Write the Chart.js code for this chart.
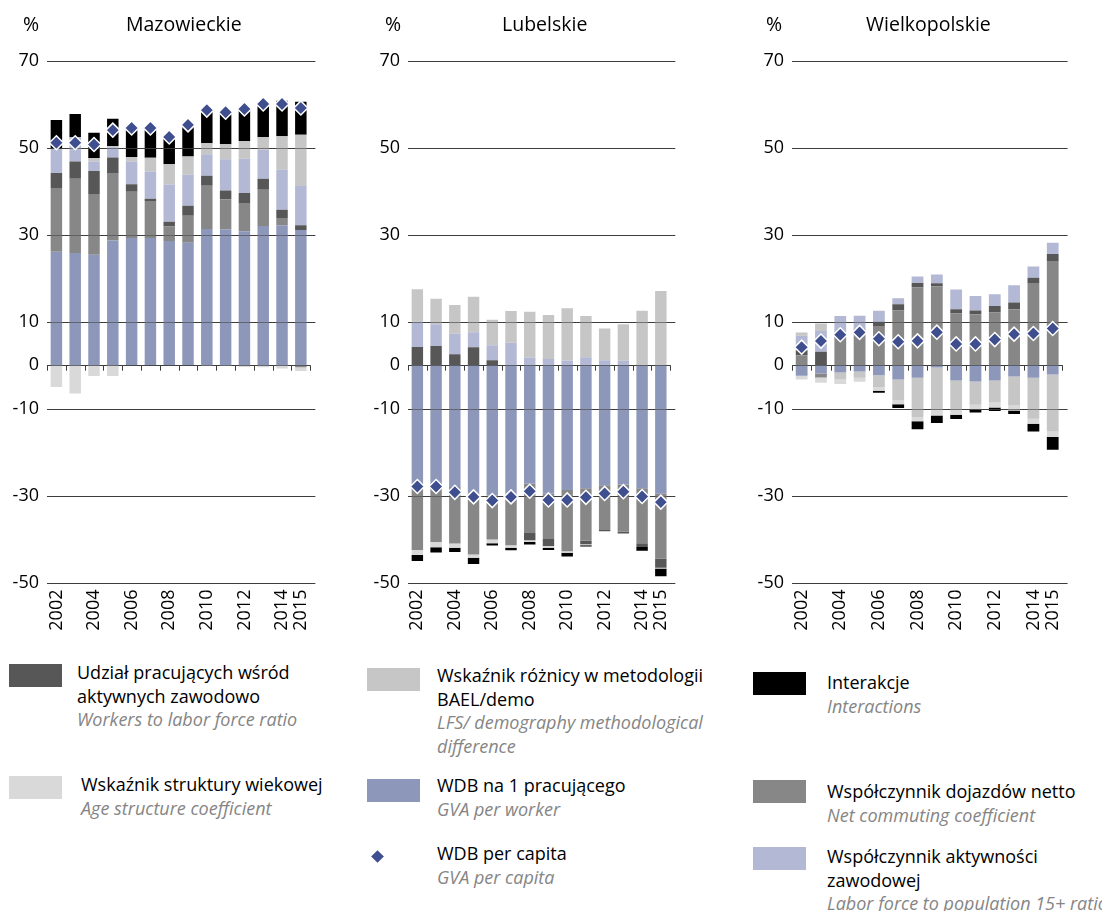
<!DOCTYPE html>
<html>
<head>
<meta charset="utf-8">
<script src="https://cdn.jsdelivr.net/npm/chart.js@4.4.1/dist/chart.umd.min.js"></script>
<style>
  body { margin: 0; background: #fff; font-family: "Open Sans", sans-serif; color: #000; }
  #wrap { position: relative; width: 1102px; height: 911px; overflow: hidden; }
  canvas { position: absolute; top: 0; }
  .t { position: absolute; font-size: 19.5px; line-height: 20px; white-space: nowrap; }
  .sw { position: absolute; width: 53px; height: 23px; }
  .lg { position: absolute; font-size: 18px; line-height: 23.5px; white-space: nowrap; }
  .lg i { color: #858585; }
  .dia { position: absolute; width: 9px; height: 9px; background: #3f4e8e; transform: rotate(45deg); }
</style>
</head>
<body>
<div id="wrap">
  <canvas id="c1" width="330" height="640" style="left:0px"></canvas>
  <canvas id="c2" width="330" height="640" style="left:360px"></canvas>
  <canvas id="c3" width="340" height="640" style="left:742px"></canvas>

  <div class="t" style="left:23px;top:14px">%</div>
  <div class="t" style="left:126px;top:14px">Mazowieckie</div>
  <div class="t" style="left:385px;top:14px">%</div>
  <div class="t" style="left:502px;top:14px">Lubelskie</div>
  <div class="t" style="left:766px;top:14px">%</div>
  <div class="t" style="left:866px;top:14px">Wielkopolskie</div>

  <div class="sw" style="left:9px;top:664px;background:#575757"></div>
  <div class="lg" style="left:77px;top:661px">Udział pracujących wśród<br>aktywnych zawodowo<br><i>Workers to labor force ratio</i></div>
  <div class="sw" style="left:9px;top:776px;background:#d9d9d9"></div>
  <div class="lg" style="left:81px;top:773px">Wskaźnik struktury wiekowej<br><i>Age structure coefficient</i></div>

  <div class="sw" style="left:367px;top:668px;background:#c6c6c6"></div>
  <div class="lg" style="left:437px;top:664px">Wskaźnik różnicy w metodologii<br>BAEL/demo<br><i>LFS/ demography methodological<br>difference</i></div>
  <div class="sw" style="left:367px;top:779px;background:#8c97ba"></div>
  <div class="lg" style="left:437px;top:774px">WDB na 1 pracującego<br><i>GVA per worker</i></div>
  <div class="dia" style="left:373px;top:852px"></div>
  <div class="lg" style="left:437px;top:842px">WDB per capita<br><i>GVA per capita</i></div>

  <div class="sw" style="left:753px;top:672px;background:#000"></div>
  <div class="lg" style="left:827px;top:671px">Interakcje<br><i>Interactions</i></div>
  <div class="sw" style="left:753px;top:780px;background:#878787"></div>
  <div class="lg" style="left:827px;top:780px">Współczynnik dojazdów netto<br><i>Net commuting coefficient</i></div>
  <div class="sw" style="left:753px;top:847px;background:#b3b8d4"></div>
  <div class="lg" style="left:827px;top:845px">Współczynnik aktywności<br>zawodowej<br><i>Labor force to population 15+ ratio</i></div>
</div>
<script>
const years = ['2002','2003','2004','2005','2006','2007','2008','2009','2010','2011','2012','2013','2014','2015'];
const shownYears = ['2002','2004','2006','2008','2010','2012','2014','2015'];
const yTicks = [-50, -30, -10, 0, 10, 30, 50, 70];

// Mazowieckie
const mazGvaWorker = [26.1, 25.8, 25.4, 28.7, 29.3, 29.3, 28.6, 28.2, 31.35, 31.3, 30.8, 32.05, 32.2, 31.1];
const mazCommuting = [14.7, 17.1, 14.0, 15.55, 10.6, 8.5, 3.3, 6.2, 9.95, 6.9, 6.55, 8.3, 1.7, -0.45];
const mazWorkersLF = [3.45, 4.0, 5.3, 3.55, 1.75, 0.5, 1.1, 2.3, 2.3, 2.0, 2.3, 2.55, 1.85, 1.1];
const mazActivity = [5.45, 5.55, 2.2, 2.35, 5.25, 6.25, 8.6, 7.1, 4.95, 7.2, 7.85, 6.65, 9.25, 9.05];
const mazLfsDiff = [0, 0, 0.7, 0.3, 1.0, 3.2, 4.65, 4.2, 2.55, 3.45, 4.05, 2.9, 7.7, 11.8];
const mazAge = [-5.0, -6.5, -2.5, -2.5, 0, 0, 0, 0, -0.2, -0.2, -0.4, -0.45, -0.75, -0.9];
const mazInteract = [6.7, 5.35, 5.9, 6.25, 6.7, 6.7, 6.25, 7.3, 7.6, 7.55, 7.8, 8.1, 8.15, 7.6];
const mazGvaCapita = [51.2, 51.2, 50.8, 54.1, 54.6, 54.6, 52.5, 55.3, 58.7, 58.2, 58.95, 60.1, 60.1, 59.2];

// Lubelskie
const lubGvaWorker = [-27.5, -27.5, -28.0, -29.5, -30.0, -29.5, -27.2, -29.6, -28.7, -28.3, -27.65, -27.5, -28.3, -29.55];
const lubCommuting = [-15.05, -13.2, -13.0, -14.05, -10.1, -11.9, -11.4, -10.4, -14.1, -12.1, -10.25, -10.85, -12.65, -14.95];
const lubWorkersLF = [4.2, 4.4, 2.55, 4.15, 1.15, 0, -1.65, -1.6, 0, -0.8, -0.3, -0.4, -0.9, -2.1];
const lubActivity = [5.8, 5.0, 4.75, 3.45, 3.45, 5.15, 1.75, 1.45, 1.1, 1.85, 1.15, 1.0, 0, 0];
const lubLfsDiff = [7.45, 5.9, 6.55, 8.15, 5.85, 7.3, 10.55, 10.1, 12.0, 9.45, 7.3, 8.45, 12.55, 17.1];
const lubAge = [-1.15, -1.2, -1.0, -0.75, -0.85, -0.6, -0.45, -0.4, -0.35, -0.2, 0, 0, 0, -0.2];
const lubInteract = [-1.35, -1.2, -1.0, -1.45, -0.55, -0.6, -0.55, -0.55, -0.85, -0.3, 0, 0, -0.85, -1.75];
const lubGvaCapita = [-27.9, -27.9, -29.25, -30.3, -31.15, -30.3, -29.0, -31.0, -31.0, -30.4, -29.5, -29.1, -30.2, -31.5];

// Wielkopolskie
const wlkGvaWorker = [-2.45, -1.9, -1.7, -1.45, -2.3, -3.3, -2.9, -0.55, -3.5, -3.75, -3.5, -2.6, -2.9, -2.15];
const wlkCommuting = [2.3, -0.9, 6.7, 8.45, 9.0, 12.6, 17.9, 18.15, 11.9, 11.7, 12.15, 12.9, 18.9, 24.0];
const wlkWorkersLF = [1.15, 3.1, 0, 0, 1.0, 1.4, 1.0, 0.7, 0.95, 0.9, 1.45, 1.55, 1.2, 1.6];
const wlkActivity = [3.3, 4.75, 4.6, 2.95, 2.55, 1.4, 1.5, 2.05, 4.55, 3.3, 2.7, 3.95, 2.6, 2.55];
const wlkLfsDiff = [0.8, 1.75, -1.6, -1.45, -2.8, -4.8, -9.1, -9.9, -6.9, -5.35, -5.1, -6.7, -9.4, -13.1];
const wlkAge = [-0.85, -1.25, -1.0, -0.9, -0.8, -0.9, -0.9, -1.15, -1.0, -1.05, -1.15, -1.1, -1.15, -1.25];
const wlkInteract = [0, 0, 0, 0, -0.45, -0.85, -1.85, -1.7, -0.95, -0.75, -0.8, -0.8, -1.8, -2.95];
const wlkGvaCapita = [4.15, 5.55, 7.0, 7.55, 6.1, 5.4, 5.6, 7.6, 4.9, 4.9, 5.9, 7.15, 7.3, 8.45];

const FONT = '"Open Sans", sans-serif';

function drawGrid(chart, color) {
    const { ctx, chartArea, scales } = chart;
    const yScale = scales.y, xScale = scales.x;
    ctx.save();
    ctx.strokeStyle = color;
    ctx.lineWidth = 1;
    yScale.ticks.forEach(t => {
        const y = Math.round(yScale.getPixelForValue(t.value)) + 0.5;
        const end = t.value === 0 ? chartArea.right : chartArea.right + 5;
        ctx.beginPath();
        ctx.moveTo(chartArea.left, y);
        ctx.lineTo(end, y);
        ctx.stroke();
    });
    // small ticks on the zero line, between categories
    const y0 = Math.round(yScale.getPixelForValue(0)) + 0.5;
    const n = chart.data.labels.length;
    const w = (xScale.right - xScale.left) / n;
    for (let i = 0; i <= n; i++) {
        const x = Math.round(xScale.left + i * w) + 0.5;
        ctx.beginPath();
        ctx.moveTo(x, y0);
        ctx.lineTo(x, y0 + 5);
        ctx.stroke();
    }
    ctx.restore();
}

const gridPlugin = {
    id: 'gridOver',
    beforeDatasetsDraw(chart) {
        drawGrid(chart, '#111');
    },
    beforeDatasetDraw(chart, args) {
        if (args.meta.type === 'line') drawGrid(chart, 'rgba(80,80,80,0.7)');
    }
};

function barSet(label, data, color) {
    return { type: 'bar', label, data, backgroundColor: color, borderWidth: 0,
             stack: 'a', order: 1, barPercentage: 0.61, categoryPercentage: 1.0 };
}

function makeChart(id, s, yWidth, padRight) {
    const ctx = document.getElementById(id).getContext('2d');
    return new Chart(ctx, {
        type: 'bar',
        data: {
            labels: years,
            datasets: [
                barSet('WDB na 1 pracującego', s.gvaWorker, '#8c97ba'),
                barSet('Współczynnik dojazdów netto', s.commuting, '#878787'),
                barSet('Udział pracujących wśród aktywnych zawodowo', s.workersLF, '#575757'),
                barSet('Współczynnik aktywności zawodowej', s.activity, '#b3b8d4'),
                barSet('Wskaźnik różnicy w metodologii BAEL/demo', s.lfsDiff, '#c6c6c6'),
                barSet('Wskaźnik struktury wiekowej', s.age, '#d9d9d9'),
                barSet('Interakcje', s.interact, '#000000'),
                {
                    type: 'line', label: 'WDB per capita', data: s.gvaCapita, stack: 'pc', order: 0,
                    showLine: false, pointStyle: 'rectRot', pointRadius: 7,
                    pointBackgroundColor: '#3f4e8e', pointBorderColor: '#ffffff', pointBorderWidth: 1.5
                }
            ]
        },
        options: {
            responsive: false,
            animation: false,
            layout: { padding: { top: 61, right: padRight, left: 0, bottom: 0 } },
            plugins: { legend: { display: false }, tooltip: { enabled: false } },
            scales: {
                x: {
                    stacked: true,
                    grid: { display: false, drawTicks: false },
                    border: { display: false },
                    afterFit(scale) { scale.height = 57.5; },
                    ticks: {
                        autoSkip: false, minRotation: 90, maxRotation: 90, padding: 7, color: '#000',
                        font: { family: FONT, size: 18 },
                        callback(v, i) { return shownYears.includes(years[i]) ? years[i] : ''; }
                    }
                },
                y: {
                    stacked: true, min: -50, max: 70,
                    grid: { display: false, drawTicks: false },
                    border: { display: false },
                    afterBuildTicks(scale) { scale.ticks = yTicks.map(v => ({ value: v })); },
                    afterFit(scale) { scale.width = yWidth; },
                    ticks: { padding: 8, color: '#000', font: { family: FONT, size: 18 } }
                }
            }
        },
        plugins: [gridPlugin]
    });
}

makeChart('c1', { gvaWorker: mazGvaWorker, commuting: mazCommuting, workersLF: mazWorkersLF, activity: mazActivity,
                  lfsDiff: mazLfsDiff, age: mazAge, interact: mazInteract, gvaCapita: mazGvaCapita }, 47, 16);
makeChart('c2', { gvaWorker: lubGvaWorker, commuting: lubCommuting, workersLF: lubWorkersLF, activity: lubActivity,
                  lfsDiff: lubLfsDiff, age: lubAge, interact: lubInteract, gvaCapita: lubGvaCapita }, 48, 16);
makeChart('c3', { gvaWorker: wlkGvaWorker, commuting: wlkCommuting, workersLF: wlkWorkersLF, activity: wlkActivity,
                  lfsDiff: wlkLfsDiff, age: wlkAge, interact: wlkInteract, gvaCapita: wlkGvaCapita }, 50, 19);
</script>
</body>
</html>
